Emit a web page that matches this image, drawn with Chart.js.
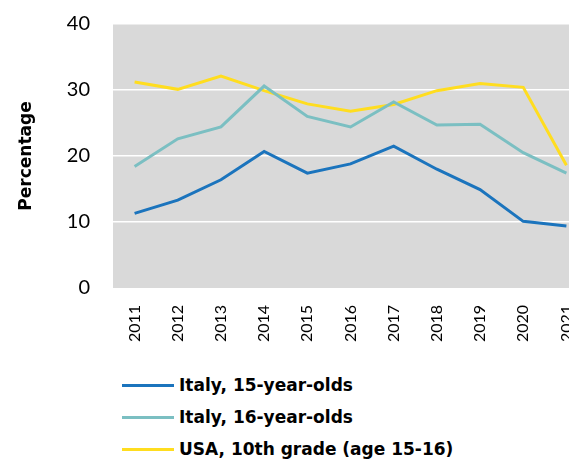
<!DOCTYPE html>
<html>
<head>
<meta charset="utf-8">
<script src="https://cdn.jsdelivr.net/npm/chart.js@4/dist/chart.umd.min.js"></script>
<style>
  html, body { margin: 0; padding: 0; background: #fff; overflow: hidden; width: 569px; height: 461px; }
  #grafico { position: absolute; left: 0; top: 0; }
  #leyenda { position: absolute; left: 122px; top: 369px; font-family: "DejaVu Sans", sans-serif; font-weight: bold; font-size: 17px; color: #000; }
  .item { display: flex; align-items: center; height: 32.2px; }
  .linea { width: 52px; height: 3px; margin-right: 5px; }
</style>
</head>
<body>
<canvas id="grafico" width="602" height="350"></canvas>
<div id="leyenda"></div>
<script>
const anios = ['2011', '2012', '2013', '2014', '2015', '2016', '2017', '2018', '2019', '2020', '2021'];
const italia15 = [11.3, 13.3, 16.4, 20.7, 17.4, 18.8, 21.5, 18.0, 14.9, 10.1, 9.4];
const italia16 = [18.4, 22.6, 24.4, 30.6, 26.0, 24.4, 28.2, 24.7, 24.8, 20.5, 17.4];
const usa10 = [31.2, 30.1, 32.1, 29.9, 27.9, 26.8, 27.8, 29.9, 31.0, 30.4, 18.6];
const nombres = ['Italy, 15-year-olds', 'Italy, 16-year-olds', 'USA, 10th grade (age 15-16)'];
const colores = ['#1b74bd', '#7bbfc2', '#ffdd1f'];

// fondo gris del area del grafico
const fondo = {
    id: 'fondo',
    beforeDraw(chart) {
        const a = chart.chartArea;
        const ctx = chart.ctx;
        ctx.save();
        ctx.fillStyle = '#d9d9d9';
        ctx.fillRect(a.left, a.top, a.right - a.left, a.bottom - a.top);
        ctx.restore();
    }
};

const series = [italia15, italia16, usa10];

const chart = new Chart(document.getElementById('grafico'), {
    type: 'line',
    data: {
        labels: anios,
        datasets: series.map((d, i) => ({
            label: nombres[i],
            data: d,
            borderColor: colores[i],
            backgroundColor: colores[i],
            borderWidth: 3,
            pointRadius: 0,
            tension: 0,
            fill: false
        }))
    },
    options: {
        responsive: false,
        animation: false,
        devicePixelRatio: 1,
        layout: { padding: { top: 24, right: 14, bottom: 0, left: 0 } },
        plugins: {
            legend: { display: false },
            tooltip: { enabled: false }
        },
        scales: {
            x: {
                offset: true,
                grid: { display: false },
                border: { display: false },
                ticks: {
                    autoSkip: false,
                    minRotation: 90,
                    maxRotation: 90,
                    padding: 9,
                    color: '#000',
                    font: { family: 'Lato', size: 16 }
                },
                afterFit(s) { s.height = 62; }
            },
            y: {
                min: 0,
                max: 40,
                border: { display: false },
                grid: {
                    drawTicks: true,
                    tickLength: 23,
                    tickColor: 'rgba(0,0,0,0)',
                    lineWidth: 1.5,
                    color: c => c.tick && c.tick.value === 0 ? 'rgba(0,0,0,0)' : '#ffffff'
                },
                ticks: {
                    stepSize: 10,
                    padding: 0,
                    color: '#000',
                    font: { family: 'Lato', size: 20 }
                },
                title: {
                    display: true,
                    text: 'Percentage',
                    color: '#000',
                    font: { family: 'DejaVu Sans', size: 17, weight: 'bold' },
                    padding: { top: 16, bottom: 0 }
                },
                afterFit(s) { s.width = 113; }
            }
        }
    },
    plugins: [fondo]
});

// leyenda en columna
const leyenda = document.getElementById('leyenda');
chart.data.datasets.forEach(ds => {
    const item = document.createElement('div');
    item.className = 'item';
    const linea = document.createElement('span');
    linea.className = 'linea';
    linea.style.background = ds.borderColor;
    const texto = document.createElement('span');
    texto.textContent = ds.label;
    item.appendChild(linea);
    item.appendChild(texto);
    leyenda.appendChild(item);
});
</script>
</body>
</html>
